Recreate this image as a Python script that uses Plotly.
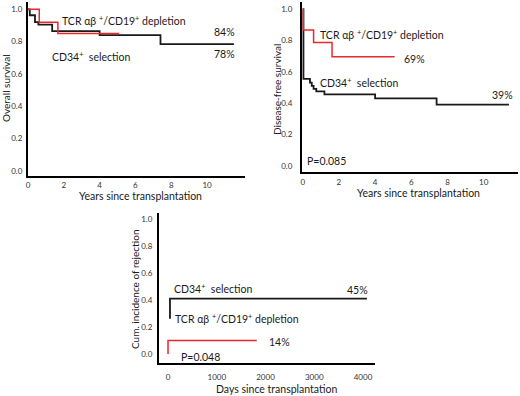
import plotly.graph_objects as go

W, H = 520, 396
FONT = "Lato"
TXT = "#1a1a1a"
TCK = "#333333"
RED = "#e8282d"
BLK = "#1a1a1a"

# ---- data -------------------------------------------------------------
# Overall survival (years since transplantation)
os_tcr_years = [0, 0.63, 1.67, 5.1]
os_tcr_surv = [1.0, 0.92, 0.85, 0.85]
os_cd34_years = [0, 0.1, 0.39, 0.58, 1.35, 4.0, 7.4, 11.5]
os_cd34_surv = [1.0, 0.963, 0.92, 0.905, 0.865, 0.84, 0.785, 0.785]

# Disease-free survival (years since transplantation)
dfs_tcr_years = [0, 0.03, 0.6, 1.62, 5.08]
dfs_tcr_surv = [1.0, 0.867, 0.786, 0.696, 0.696]
dfs_cd34_years = [0, 0.04, 0.4, 0.5, 0.6, 0.75, 1.2, 4.0, 7.4, 11.4]
dfs_cd34_surv = [1.0, 0.554, 0.53, 0.51, 0.49, 0.475, 0.456, 0.43, 0.39, 0.39]

# Cumulative incidence of rejection (days since transplantation)
rej_tcr_days = [0, 0, 1820]
rej_tcr_inc = [0.0, 0.10, 0.10]
rej_cd34_days = [40, 40, 4080]
rej_cd34_inc = [0.26, 0.41, 0.41]

year_ticks = [0, 2, 4, 6, 8, 10]
day_ticks = [0, 1000, 2000, 3000, 4000]
prob_ticks = [0.0, 0.2, 0.4, 0.6, 0.8, 1.0]
prob_labels = ["0.0", "0.2", "0.4", "0.6", "0.8", "1.0"]

TCR_LABEL = "TCR αβ <sup>+</sup>/CD19<sup>+</sup> depletion"
CD34_LABEL = "CD34<sup>+</sup>  selection"

# ---- figure -----------------------------------------------------------
fig = go.Figure()

def step(x, y, color, width, xa, ya, shape="hv"):
    fig.add_trace(go.Scatter(x=x, y=y, mode="lines",
                             line=dict(color=color, width=width, shape=shape),
                             xaxis=xa, yaxis=ya, showlegend=False,
                             hoverinfo="skip"))

step(os_cd34_years, os_cd34_surv, BLK, 1.8, "x", "y")
step(os_tcr_years, os_tcr_surv, RED, 1.5, "x", "y")
step(dfs_cd34_years, dfs_cd34_surv, BLK, 1.8, "x2", "y2")
step(dfs_tcr_years, dfs_tcr_surv, RED, 1.5, "x2", "y2")
step(rej_cd34_days, rej_cd34_inc, BLK, 1.8, "x3", "y3", "linear")
step(rej_tcr_days, rej_tcr_inc, RED, 1.5, "x3", "y3", "linear")

def px(xp):
    return xp / W

def py(yp):
    return 1 - yp / H

def xax(dom, rng, tickvals, ticklen, anchor):
    return dict(domain=[px(dom[0]), px(dom[1])], range=rng, anchor=anchor,
                showline=True, linecolor="black", linewidth=2,
                showgrid=False, zeroline=False, tickvals=tickvals,
                automargin=False,
                ticks="outside", ticklen=ticklen, tickcolor="rgba(0,0,0,0)",
                tickfont=dict(family=FONT, size=8, color=TCK))

def yax(dom, rng, ticklen, anchor):
    return dict(domain=[py(dom[1]), py(dom[0])], range=rng, anchor=anchor,
                showline=True, linecolor="black", linewidth=2,
                showgrid=False, zeroline=False, tickvals=prob_ticks,
                ticktext=prob_labels, automargin=False,
                ticks="outside", ticklen=ticklen, tickcolor="rgba(0,0,0,0)",
                tickfont=dict(family=FONT, size=8, color=TCK))

fig.update_layout(
    width=W, height=H,
    margin=dict(l=0, r=0, t=0, b=0),
    paper_bgcolor="white", plot_bgcolor="white",
    xaxis=xax((28, 245), [0, 12.12], year_ticks, 1, "y"),
    yaxis=yax((2, 175.5), [-0.028, 1.045], 2, "x"),
    xaxis2=xax((302, 518), [-0.04, 11.9], year_ticks, 1, "y2"),
    yaxis2=yax((2, 172), [-0.04, 1.045], 6, "x2"),
    xaxis3=xax((159, 375), [-185, 4246], day_ticks, 5, "y3"),
    yaxis3=yax((213, 363), [-0.067, 1.044], 3, "x3"),
)

def note(text, x, y, size=10.5, xanchor="left", angle=0):
    fig.add_annotation(text=text, x=px(x), y=py(y), xref="paper", yref="paper",
                       xanchor=xanchor, yanchor="middle", showarrow=False,
                       textangle=angle,
                       font=dict(family=FONT, size=size, color=TXT))

# panel 1
note(TCR_LABEL, 60, 21)
note("84%", 212, 32)
note(CD34_LABEL, 50, 57)
note("78%", 212, 54)
note("Years since transplantation", 140, 196, 10.5, "center")
note("Overall survival", 6, 88, 10, "center", -90)

# panel 2
note(TCR_LABEL, 318, 35)
note("69%", 402, 59)
note(CD34_LABEL, 318, 82)
note("39%", 490, 95)
note("P=0.085", 305, 161)
note("Years since transplantation", 418, 193, 10.5, "center")
note("Disease-free survival", 277, 90, 10, "center", -90)

# panel 3
note(CD34_LABEL, 172, 288)
note("45%", 345, 290)
note(TCR_LABEL, 173, 318)
note("14%", 267, 342)
note("P=0.048", 179, 357)
note("Days since transplantation", 276, 389, 10.5, "center")
note("Cum. incidence of rejection", 135, 290, 10, "center", -90)

fig.write_html("out.html",
               config={"displayModeBar": False},
               post_script="document.body.style.margin='0';"
                           "document.body.style.overflow='hidden';")
